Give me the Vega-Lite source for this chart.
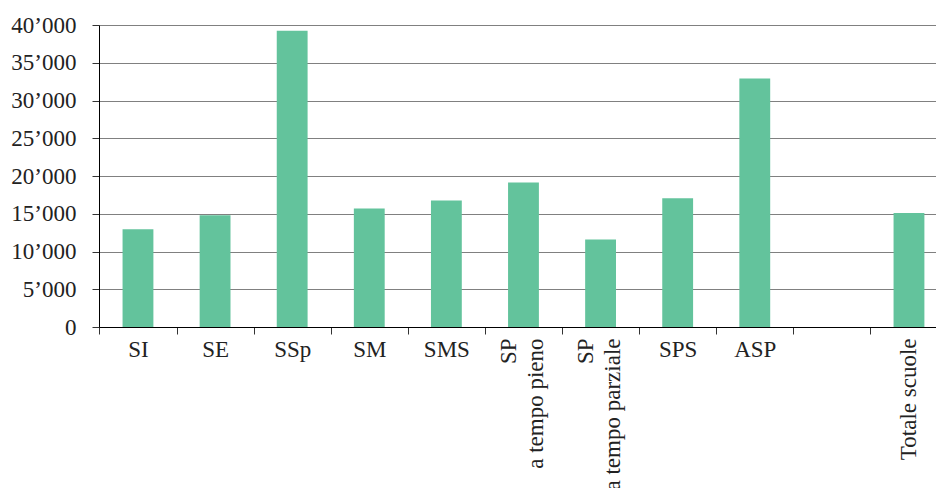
{
  "$schema": "https://vega.github.io/schema/vega-lite/v6.json",
  "autosize": {"type": "none"},
  "padding": {"left": 99, "top": 25, "right": 0, "bottom": 161},
  "width": 837,
  "height": 302,
  "background": "white",
  "config": {
    "view": {"stroke": null},
    "font": "Liberation Serif",
    "axis": {
      "labelFont": "Liberation Serif",
      "labelFontSize": 23,
      "labelColor": "#222",
      "domainColor": "#000",
      "domainWidth": 1,
      "tickColor": "#333",
      "tickWidth": 1,
      "tickSize": 7,
      "title": null
    }
  },
  "data": {
    "values": [
      {"categoria": "SI", "valore": 12950},
      {"categoria": "SE", "valore": 14800},
      {"categoria": "SSp", "valore": 39250},
      {"categoria": "SM", "valore": 15700},
      {"categoria": "SMS", "valore": 16750},
      {"categoria": "SP a tempo pieno", "valore": 19150},
      {"categoria": "SP a tempo parziale", "valore": 11600},
      {"categoria": "SPS", "valore": 17050},
      {"categoria": "ASP", "valore": 32900},
      {"categoria": "Totale scuole", "valore": 15100}
    ]
  },
  "mark": {"type": "bar", "color": "#63c39c"},
  "encoding": {
    "x": {
      "field": "categoria",
      "type": "nominal",
      "scale": {
        "domain": ["SI", "SE", "SSp", "SM", "SMS", "SP a tempo pieno", "SP a tempo parziale", "SPS", "ASP", " ", "Totale scuole"],
        "paddingInner": 0.6,
        "paddingOuter": 0.228,
        "align": 0.67
      },
      "axis": {
        "grid": false,
        "tickOffset": -38.55,
        "labelOffset": 38.55,
        "labelPadding": 4,
        "labelLineHeight": 27,
        "labelExpr": "indexof(datum.value, 'SP a tempo') == 0 ? ['SP', slice(datum.value, 3)] : datum.value",
        "labelAlign": {"condition": {"test": "length(datum.value) > 4", "value": "right"}, "value": "center"},
        "labelBaseline": {"condition": {"test": "length(datum.value) > 4", "value": "middle"}, "value": "top"},
        "encoding": {
          "labels": {
            "angle": {"condition": {"test": "length(datum.value) > 4", "value": 270}, "value": 0},
            "dy": {"condition": {"test": "indexof(datum.value, 'SP a tempo') == 0", "value": -15}, "value": 0}
          }
        }
      }
    },
    "y": {
      "field": "valore",
      "type": "quantitative",
      "scale": {"domain": [0, 40000], "nice": false},
      "axis": {
        "values": [0, 5000, 10000, 15000, 20000, 25000, 30000, 35000, 40000],
        "grid": true,
        "gridColor": "#808080",
        "gridWidth": 1,
        "gridOpacity": 1,
        "labelPadding": 16,
        "labelExpr": "datum.value == 0 ? '0' : (datum.value / 1000) + '’000'"
      }
    }
  }
}
